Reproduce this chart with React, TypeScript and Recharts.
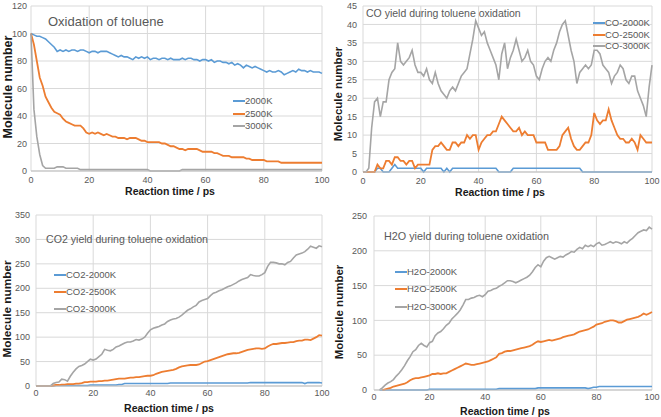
import React from 'react';
import { LineChart, Line, XAxis, YAxis, CartesianGrid, Legend } from 'recharts';

// reaction time, ps (sampled every 1 ps)
const time = Array.from({ length: 101 }, (_, i) => i);
const xTicks = [0, 20, 40, 60, 80, 100];

// toluene molecules left
const tol2000 = [
  100, 99, 98, 98, 97, 96, 94, 92, 90, 87,
  88, 87, 88, 87, 88, 88, 87, 88, 88, 87,
  86, 87, 87, 86, 87, 87, 87, 86, 85, 84,
  83, 84, 83, 83, 82, 81, 83, 82, 83, 82,
  83, 81, 82, 82, 81, 82, 82, 81, 82, 81,
  81, 81, 82, 81, 82, 82, 81, 81, 80, 81,
  81, 80, 81, 79, 80, 80, 79, 79, 78, 79,
  77, 78, 77, 75, 77, 76, 75, 76, 75, 74,
  73, 72, 73, 72, 72, 73, 72, 70, 71, 72,
  73, 72, 74, 73, 73, 72, 73, 72, 72, 72,
  71,
];
const tol2500 = [
  100, 92, 80, 68, 62, 54, 50, 46, 43, 42,
  41, 38, 36, 35, 34, 33, 33, 33, 31, 28,
  27, 28, 27, 28, 27, 26, 27, 26, 25, 25,
  24, 24, 24, 23, 24, 24, 24, 23, 22, 22,
  21, 21, 21, 21, 21, 20, 20, 19, 18, 18,
  17, 16, 16, 15, 16, 16, 16, 16, 15, 14,
  14, 14, 14, 13, 13, 12, 11, 11, 11, 10,
  10, 10, 10, 10, 9, 9, 8, 8, 8, 8,
  8, 7, 7, 7, 7, 7, 6, 6, 6, 6,
  6, 6, 6, 6, 6, 6, 6, 6, 6, 6,
  6,
];
const tol3000 = [
  100, 45, 25, 12, 4, 2, 2, 2, 2, 3,
  3, 3, 2, 2, 2, 2, 2, 1, 1, 1,
  1, 1, 1, 1, 1, 1, 1, 1, 1, 1,
  1, 1, 1, 1, 1, 1, 1, 1, 1, 1,
  1, 0, 0, 0, 0, 0, 0, 0, 0, 0,
  0, 0, 1, 1, 1, 1, 1, 1, 1, 1,
  1, 1, 1, 1, 1, 1, 1, 1, 1, 1,
  1, 1, 1, 1, 1, 1, 1, 1, 1, 1,
  1, 1, 1, 1, 1, 1, 1, 1, 1, 1,
  1, 1, 1, 1, 1, 1, 1, 1, 1, 1,
  1,
];

// CO yield
const co2000 = [
  0, 0, 0, 0, 0, 1, 1, 0, 0, 0,
  1, 2, 1, 1, 1, 1, 1, 1, 1, 1,
  1, 0, 1, 1, 1, 1, 1, 1, 0, 1,
  0, 1, 1, 1, 1, 1, 1, 1, 1, 1,
  1, 1, 1, 1, 1, 1, 1, 0, 0, 0,
  0, 0, 1, 1, 1, 1, 1, 1, 1, 1,
  1, 1, 1, 1, 1, 1, 1, 1, 1, 1,
  1, 1, 1, 1, 1, 1, 0, 0, 0, 0,
  0, 0, 0, 0, 0, 0, 0, 0, 0, 0,
  0, 0, 0, 0, 0, 0, 0, 0, 0, 0,
  0,
];
const co2500 = [
  0, 0, 0, 0, 0, 2, 1, 1, 3, 3,
  2, 4, 4, 3, 3, 2, 3, 3, 1, 2,
  2, 2, 2, 2, 6, 7, 7, 8, 7, 6,
  6, 8, 8, 7, 8, 8, 10, 9, 10, 10,
  6, 8, 9, 10, 10, 11, 11, 13, 15, 14,
  13, 12, 11, 11, 12, 10, 11, 10, 10, 10,
  8, 8, 8, 8, 6, 6, 6, 6, 7, 10,
  11, 12, 9, 7, 6, 6, 7, 8, 8, 10,
  16, 14, 13, 14, 14, 17, 14, 12, 10, 9,
  9, 8, 8, 9, 8, 6, 10, 9, 8, 8,
  8,
];
const co3000 = [
  0, 0, 1, 12, 19, 20, 15, 19, 19, 25,
  27, 28, 35, 30, 29, 30, 31, 33, 29, 27,
  27, 26, 28, 25, 24, 27, 24, 22, 21, 20,
  22, 23, 22, 24, 26, 27, 28, 32, 36, 41,
  39, 37, 38, 35, 33, 31, 29, 25, 32, 35,
  28, 31, 33, 36, 33, 30, 31, 33, 30, 29,
  26, 25, 28, 30, 31, 30, 33, 35, 38, 40,
  41, 37, 33, 30, 24, 27, 28, 29, 28, 29,
  33, 33, 32, 29, 28, 27, 24, 26, 27, 29,
  28, 25, 24, 26, 26, 22, 20, 18, 15, 23,
  29,
];

// CO2 yield
const co2_2000 = [
  0, 0, 0, 0, 0, 0, 0, 1, 1, 1,
  1, 1, 1, 1, 1, 1, 1, 1, 1, 2,
  2, 2, 2, 2, 2, 2, 2, 2, 2, 3,
  3, 5, 5, 5, 5, 5, 5, 5, 5, 5,
  5, 5, 5, 5, 5, 5, 5, 6, 6, 6,
  6, 6, 6, 6, 6, 6, 6, 6, 6, 6,
  6, 6, 6, 6, 6, 6, 6, 6, 6, 6,
  6, 6, 6, 6, 6, 7, 7, 7, 7, 7,
  7, 7, 7, 7, 7, 7, 7, 7, 7, 7,
  7, 7, 7, 7, 5, 7, 7, 7, 7, 7,
  6,
];
const co2_2500 = [
  0, 0, 0, 0, 0, 0, 1, 2, 2, 3,
  3, 4, 4, 4, 5, 5, 6, 8, 8, 9,
  9, 9, 10, 10, 11, 11, 12, 13, 14, 15,
  15, 15, 16, 17, 17, 18, 18, 19, 20, 21,
  21, 22, 25, 27, 29, 30, 31, 32, 33, 35,
  38, 40, 41, 42, 43, 43, 43, 44, 47, 50,
  51, 53, 55, 57, 59, 61, 63, 65, 66, 67,
  67, 68, 70, 72, 74, 75, 76, 77, 77, 76,
  77, 81, 84, 86, 86, 87, 88, 88, 89, 90,
  90, 92, 93, 93, 95, 95, 94, 97, 100, 104,
  103,
];
const co2_3000 = [
  0, 0, 0, 0, 0, 0, 5, 7, 8, 14,
  13, 10, 20, 28, 35, 40, 42, 45, 50, 55,
  53, 55, 60, 65, 75, 73, 72, 75, 80, 82,
  85, 88, 90, 90, 92, 95, 94, 96, 100, 108,
  115, 118, 120, 122, 125, 127, 132, 135, 137, 138,
  141, 145, 150, 155, 158, 162, 165, 172, 175, 177,
  179, 185, 190, 192, 195, 197, 200, 203, 205, 208,
  211, 215, 218, 220, 222, 228, 226, 225, 225, 228,
  232, 245, 253, 253, 252, 250, 250, 248, 253, 255,
  262, 268, 270, 272, 275, 280, 286, 284, 282, 287,
  285,
];

// H2O yield
const h2o2000 = [
  null, null, 0, 0, 0, 0, 0, 0, 0, 0,
  0, 0, 0, 0, 0, 0, 0, 0, 0, 0,
  1, 1, 1, 1, 1, 1, 1, 1, 1, 1,
  1, 1, 1, 1, 1, 1, 1, 1, 1, 1,
  1, 1, 1, 1, 1, 2, 2, 2, 2, 2,
  2, 2, 2, 2, 2, 2, 2, 2, 2, 3,
  3, 3, 3, 3, 3, 3, 3, 3, 3, 3,
  3, 3, 3, 3, 3, 3, 3, 2, 3, 4,
  4, 5, 5, 5, 5, 5, 5, 5, 5, 5,
  5, 5, 5, 5, 5, 5, 5, 5, 5, 5,
  5,
];
const h2o2500 = [
  null, null, null, 0, 1, 2, 3, 5, 6, 7,
  8, 9, 11, 14, 16, 17, 17, 18, 19, 20,
  21, 23, 23, 24, 23, 24, 24, 26, 28, 30,
  32, 34, 36, 38, 37, 36, 36, 37, 38, 39,
  40, 41, 43, 45, 47, 52, 53, 55, 56, 56,
  57, 58, 59, 60, 61, 62, 63, 65, 68, 70,
  69, 70, 71, 72, 71, 72, 73, 74, 76, 77,
  78, 79, 80, 82, 84, 85, 86, 87, 89, 91,
  94, 95, 96, 98, 99, 100, 100, 99, 97, 97,
  99, 101, 102, 103, 104, 105, 107, 110, 108, 110,
  112,
];
const h2o3000 = [
  null, null, 0, 3, 7, 10, 12, 15, 20, 24,
  29, 35, 42, 48, 55, 58, 64, 67, 64, 62,
  68, 70, 78, 82, 84, 88, 93, 96, 102, 106,
  110, 115, 122, 130, 130, 132, 133, 135, 136, 134,
  137, 142, 143, 145, 146, 149, 151, 154, 157, 157,
  156, 154, 156, 158, 160, 162, 165, 170, 176, 180,
  177, 185, 190, 192, 190, 188, 190, 192, 191, 194,
  196, 199, 198, 202, 205, 203, 208, 206, 208, 206,
  210, 212, 208, 209, 211, 213, 211, 213, 212, 210,
  213, 211, 215, 218, 222, 226, 228, 230, 229, 234,
  231,
];

const BLUE = '#5b9bd5';
const ORANGE = '#ed7d31';
const GRAY = '#a5a5a5';
const TXT = '#595959';

const rows = (a: any[], b: any[], c: any[]) =>
  time.map((t, i) => ({ t, a: a[i], b: b[i], c: c[i] }));

const LegendBox = ({ payload, rowH }: any) => (
  <div>
    {(payload || []).map((p: any) => (
      <div key={p.value} style={{ display: 'flex', alignItems: 'center', height: rowH, whiteSpace: 'nowrap' }}>
        <span style={{ display: 'inline-block', width: 12, height: 2, background: p.color }} />
        <span style={{ color: TXT, fontSize: 9.5, lineHeight: '10px' }}>{p.value}</span>
      </div>
    ))}
  </div>
);

function Panel(props: any) {
  const { left, top, width, height, mTop, yWidth, yTicks, data, names, lgLeft, lgTop, rowH, yGap, xGap } = props;
  return (
    <div style={{ position: 'absolute', left, top }}>
      <LineChart width={width} height={height} data={data} margin={{ top: mTop, right: 10, bottom: 0, left: 0 }}>
        <CartesianGrid stroke="#d9d9d9" />
        <XAxis
          dataKey="t"
          type="number"
          domain={[0, 100]}
          ticks={xTicks}
          interval={0}
          height={15}
          tickLine={false}
          axisLine={{ stroke: '#bfbfbf' }}
          tickSize={xGap}
          tickMargin={2}
          tick={{ fontSize: 9, fill: TXT }}
        />
        <YAxis
          type="number"
          domain={[0, yTicks[yTicks.length - 1]]}
          ticks={yTicks}
          interval={0}
          width={yWidth}
          tickLine={false}
          axisLine={false}
          tickSize={yGap}
          tickMargin={2}
          tick={{ fontSize: 9, fill: TXT }}
        />
        <Legend
          layout="vertical"
          align="center"
          verticalAlign="middle"
          wrapperStyle={{ left: lgLeft, top: lgTop, width: 'auto', height: 'auto' }}
          content={(p: any) => <LegendBox {...p} rowH={rowH} />}
        />
        <Line type="linear" dataKey="a" name={names[0]} stroke={BLUE} strokeWidth={1.6} dot={false} isAnimationActive={false} />
        <Line type="linear" dataKey="b" name={names[1]} stroke={ORANGE} strokeWidth={1.8} dot={false} isAnimationActive={false} />
        <Line type="linear" dataKey="c" name={names[2]} stroke={GRAY} strokeWidth={1.6} dot={false} isAnimationActive={false} />
      </LineChart>
    </div>
  );
}

const Title = ({ x, y, size, children }: any) => (
  <div style={{ position: 'absolute', left: x, top: y, transform: 'translateY(-50%)', fontSize: size, color: TXT, whiteSpace: 'nowrap' }}>
    {children}
  </div>
);

const XTitle = ({ x, y }: any) => (
  <div style={{ position: 'absolute', left: x, top: y, transform: 'translate(-50%,-50%)', fontSize: 10.5, fontWeight: 'bold', color: '#1a1a1a', whiteSpace: 'nowrap' }}>
    Reaction time / ps
  </div>
);

const YTitle = ({ x, y, size }: any) => (
  <div style={{ position: 'absolute', left: x, top: y, transform: 'translate(-50%,-50%) rotate(-90deg)', fontSize: size, lineHeight: 1, fontWeight: 'bold', color: '#1a1a1a', whiteSpace: 'nowrap' }}>
    Molecule number
  </div>
);

export default function App() {
  return (
    <div style={{ position: 'absolute', left: 0, top: 0, width: 661, height: 417, background: '#fff', overflow: 'hidden', fontFamily: "'Liberation Sans', Arial, sans-serif" }}>
      <Panel
        left={0} top={0} width={332} height={186} mTop={6} yWidth={31} yGap={2} xGap={4}
        yTicks={[0, 20, 40, 60, 80, 100, 120]}
        data={rows(tol2000, tol2500, tol3000)}
        names={['2000K', '2500K', '3000K']}
        lgLeft={233} lgTop={95} rowH={12.5}
      />
      <Panel
        left={330} top={0} width={332} height={187} mTop={6} yWidth={33} yGap={4} xGap={4}
        yTicks={[0, 5, 10, 15, 20, 25, 30, 35, 40, 45]}
        data={rows(co2000, co2500, co3000)}
        names={['CO-2000K', 'CO-2500K', 'CO-3000K']}
        lgLeft={263} lgTop={17} rowH={11.7}
      />
      <Panel
        left={0} top={210} width={332} height={191} mTop={5} yWidth={36} yGap={4} xGap={2}
        yTicks={[0, 50, 100, 150, 200, 250, 300, 350]}
        data={rows(co2_2000, co2_2500, co2_3000)}
        names={['CO2-2000K', 'CO2-2500K', 'CO2-3000K']}
        lgLeft={54} lgTop={56} rowH={17}
      />
      <Panel
        left={330} top={210} width={332} height={195} mTop={6} yWidth={44} yGap={5} xGap={2}
        yTicks={[0, 50, 100, 150, 200, 250]}
        data={rows(h2o2000, h2o2500, h2o3000)}
        names={['H2O-2000K', 'H2O-2500K', 'H2O-3000K']}
        lgLeft={65} lgTop={53} rowH={17.5}
      />

      <Title x={48} y={21} size={13}>Oxidation of toluene</Title>
      <Title x={366} y={13} size={10.5}>CO yield during toluene oxidation</Title>
      <Title x={46} y={239} size={10.6}>CO2 yield during toluene oxidation</Title>
      <Title x={384} y={236} size={10.8}>H2O yield during toluene oxidation</Title>

      <YTitle x={8} y={87} size={12.5} />
      <YTitle x={339} y={94} size={11.5} />
      <YTitle x={8} y={309} size={11.8} />
      <YTitle x={340} y={312} size={11.5} />

      <XTitle x={170} y={191} />
      <XTitle x={500} y={192} />
      <XTitle x={169} y={408} />
      <XTitle x={505} y={411} />
    </div>
  );
}
